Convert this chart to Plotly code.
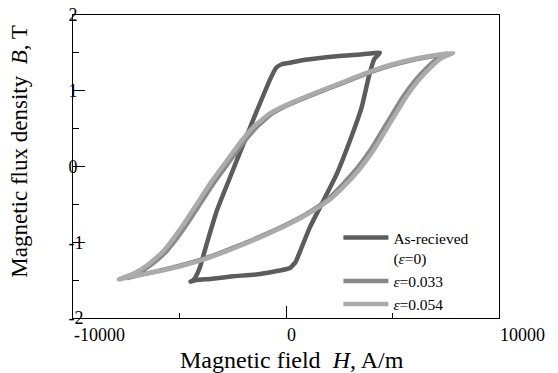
import plotly.graph_objects as go

# ---------------- data ----------------
# As-received (eps = 0): descending branch then ascending branch
H_as = [4410, 3500, 2500, 1500, 700, 190, -200, -440, -700, -1375, -2000, -2630, -3250,
        -3720, -4040, -4250, -4400, -4480,
        -4200, -3570, -2500, -1220, 190, 450, 660, 1125, 1830, 2380, 3000, 3550, 3900,
        4150, 4410]
B_as = [1.50, 1.48, 1.46, 1.43, 1.40, 1.37, 1.35, 1.31, 1.18, 0.73, 0.30, -0.145, -0.585,
        -1.02, -1.33, -1.46, -1.51, -1.52,
        -1.50, -1.485, -1.45, -1.42, -1.34, -1.26, -1.12, -0.80, -0.41, -0.10, 0.34, 0.78, 1.20,
        1.42, 1.50]

# eps = 0.033
H_033 = [7540, 7000, 6000, 5000, 4000, 3000, 2000, 1000, 0, -650, -1350, -2050, -2750, -3350,
         -4050, -4850, -5650, -6350, -7000, -7450,
         -7000, -6000, -5000, -4000, -3000, -2000, -1000, 0, 1000, 1900, 2650, 3350, 3950,
         4730, 5520, 6050, 6600, 7100, 7540]
B_033 = [1.49, 1.46, 1.41, 1.34, 1.25, 1.14, 1.03, 0.92, 0.80, 0.70, 0.53, 0.30, 0.03, -0.20,
         -0.50, -0.84, -1.13, -1.30, -1.42, -1.475,
         -1.44, -1.38, -1.31, -1.23, -1.13, -1.02, -0.90, -0.77, -0.62, -0.45, -0.24, -0.02, 0.21,
         0.57, 0.93, 1.13, 1.30, 1.42, 1.49]

# eps = 0.054
H_054 = [7850, 7000, 6000, 5000, 4000, 3000, 2000, 1000, 0, -750, -1500, -2200, -2900, -3500,
         -4200, -5000, -5800, -6500, -7200, -7850,
         -7000, -6000, -5000, -4000, -3000, -2000, -1000, 0, 1000, 2000, 2800, 3500, 4100,
         4880, 5670, 6200, 6760, 7300, 7850]
B_054 = [1.50, 1.47, 1.42, 1.35, 1.26, 1.15, 1.04, 0.93, 0.81, 0.70, 0.53, 0.30, 0.03, -0.20,
         -0.50, -0.84, -1.13, -1.30, -1.42, -1.49,
         -1.44, -1.385, -1.32, -1.24, -1.14, -1.03, -0.91, -0.78, -0.63, -0.45, -0.24, -0.02, 0.21,
         0.57, 0.93, 1.13, 1.30, 1.43, 1.50]

series_names = ["As-recieved<br>(<i>ε</i>=0)", "<i>ε</i>=0.033", "<i>ε</i>=0.054"]
series_colors = ["#5c5c5c", "#888888", "#ababab"]

x_tickvals = [-10000, 0, 10000]
x_ticktext = ["-10000", "0", "10000"]
y_tickvals = [-2, -1, 0, 1, 2]
y_ticktext = ["-2", "-1", "0", "1", "2"]

FONT = "Liberation Serif"

fig = go.Figure()
for H, B, name, col in zip([H_as, H_033, H_054], [B_as, B_033, B_054], series_names, series_colors):
    fig.add_trace(go.Scatter(x=H, y=B, mode="lines", name=name,
                             line=dict(color=col, width=4.5, shape="spline", smoothing=0.4)))

# the page adds an 8 px body margin, so the figure is 8 px smaller than the window
fig.update_layout(
    width=550, height=365,
    margin=dict(l=65, r=59, t=7, b=55),
    paper_bgcolor="white", plot_bgcolor="white",
    font=dict(family=FONT, size=18, color="black"),
    showlegend=True,
    legend=dict(x=0.623, y=0.32, xanchor="left", yanchor="top",
                bgcolor="rgba(0,0,0,0)", font=dict(size=15.5, family=FONT, color="black"),
                valign="top", tracegroupgap=0, itemwidth=45),
    xaxis=dict(range=[-10000, 10000], tickmode="array", tickvals=x_tickvals, ticktext=x_ticktext,
               ticks="inside", ticklen=12, tickwidth=1, tickcolor="black",
               ticklabelposition="outside right", ticklabeloverflow="allow",
               minor=dict(dtick=5000, ticks="inside", ticklen=5, tickcolor="black"),
               showline=True, linecolor="black", linewidth=1, mirror=True,
               showgrid=False, zeroline=False, automargin=False,
               tickfont=dict(size=18, family=FONT, color="black")),
    yaxis=dict(range=[-2, 2], tickmode="array", tickvals=y_tickvals, ticktext=y_ticktext,
               ticks="inside", ticklen=12, tickwidth=1, tickcolor="black",
               ticklabelposition="inside", ticklabelstandoff=-16, ticklabeloverflow="allow",
               minor=dict(dtick=0.5, ticks="inside", ticklen=6, tickcolor="black"),
               showline=True, linecolor="black", linewidth=1, mirror=True,
               showgrid=False, zeroline=False, automargin=False,
               tickfont=dict(size=18, family=FONT, color="black")),
    annotations=[
        dict(text="Magnetic flux density  <i>B</i>, T", textangle=-90,
             xref="paper", yref="paper", x=-0.126, y=0.55,
             xanchor="center", yanchor="middle", showarrow=False,
             font=dict(size=23, family=FONT, color="black")),
        dict(text="Magnetic field  <i>H</i>, A/m",
             xref="paper", yref="paper", x=0.514, y=-0.138,
             xanchor="center", yanchor="middle", showarrow=False,
             font=dict(size=24, family=FONT, color="black")),
    ],
)

fig.write_html("out.html")
